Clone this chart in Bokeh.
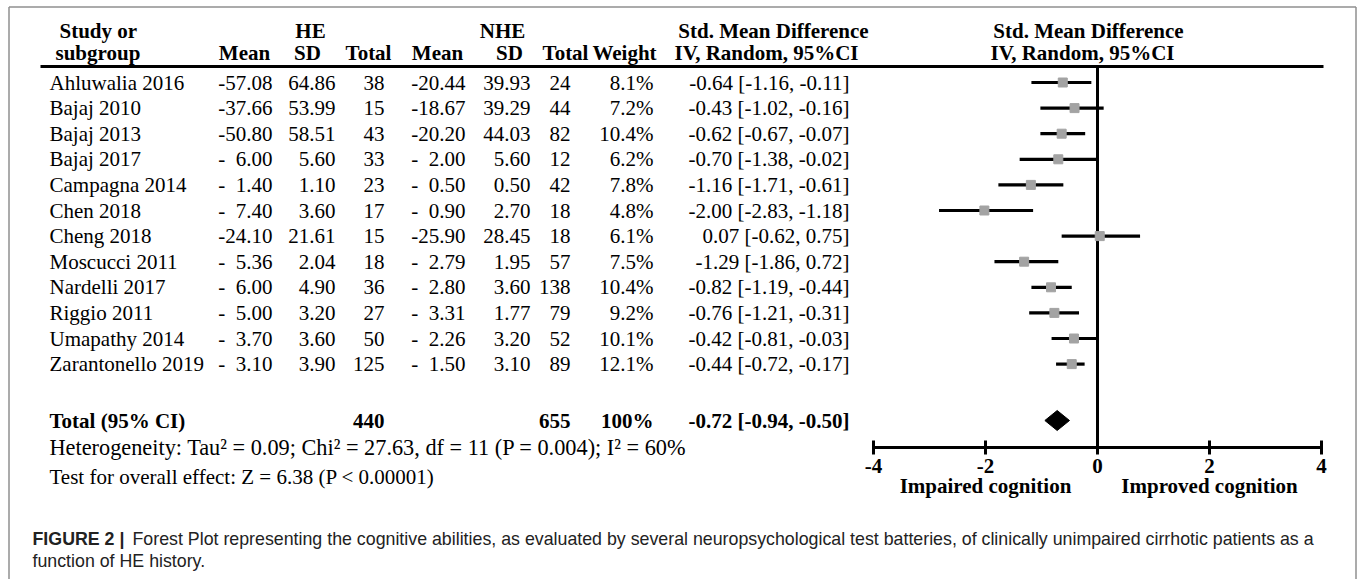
from bokeh.plotting import figure
from bokeh.models import Range1d, ColumnDataSource
from bokeh.embed import file_html
from bokeh.resources import INLINE
from bokeh.core.properties import value

# ---------------- data ----------------
studies = ["Ahluwalia 2016", "Bajaj 2010", "Bajaj 2013", "Bajaj 2017", "Campagna 2014",
           "Chen 2018", "Cheng 2018", "Moscucci 2011", "Nardelli 2017", "Riggio 2011",
           "Umapathy 2014", "Zarantonello 2019"]
FS = "\u2007"
he_mean = ["-57.08", "-37.66", "-50.80", "-" + FS + "6.00", "-" + FS + "1.40", "-" + FS + "7.40",
           "-24.10", "-" + FS + "5.36", "-" + FS + "6.00", "-" + FS + "5.00", "-" + FS + "3.70", "-" + FS + "3.10"]
he_sd = ["64.86", "53.99", "58.51", "5.60", "1.10", "3.60", "21.61", "2.04", "4.90", "3.20", "3.60", "3.90"]
he_total = [38, 15, 43, 33, 23, 17, 15, 18, 36, 27, 50, 125]
nhe_mean = ["-20.44", "-18.67", "-20.20", "-" + FS + "2.00", "-" + FS + "0.50", "-" + FS + "0.90",
            "-25.90", "-" + FS + "2.79", "-" + FS + "2.80", "-" + FS + "3.31", "-" + FS + "2.26", "-" + FS + "1.50"]
nhe_sd = ["39.93", "39.29", "44.03", "5.60", "0.50", "2.70", "28.45", "1.95", "3.60", "1.77", "3.20", "3.10"]
nhe_total = [24, 44, 82, 12, 42, 18, 18, 57, 138, 79, 52, 89]
weight = ["8.1%", "7.2%", "10.4%", "6.2%", "7.8%", "4.8%", "6.1%", "7.5%", "10.4%", "9.2%", "10.1%", "12.1%"]
smd_text = ["-0.64 [-1.16, -0.11]", "-0.43 [-1.02, -0.16]", "-0.62 [-0.67, -0.07]", "-0.70 [-1.38, -0.02]",
            "-1.16 [-1.71, -0.61]", "-2.00 [-2.83, -1.18]", "0.07 [-0.62, 0.75]", "-1.29 [-1.86, 0.72]",
            "-0.82 [-1.19, -0.44]", "-0.76 [-1.21, -0.31]", "-0.42 [-0.81, -0.03]", "-0.44 [-0.72, -0.17]"]
# values as drawn in the plot
smd_est = [-0.62, -0.41, -0.64, -0.70, -1.19, -2.02, 0.04, -1.31, -0.83, -0.77, -0.42, -0.46]
smd_lo = [-1.18, -1.02, -1.02, -1.39, -1.77, -2.83, -0.64, -1.84, -1.18, -1.22, -0.82, -0.74]
smd_hi = [-0.11, 0.11, -0.22, -0.01, -0.61, -1.15, 0.76, -0.70, -0.46, -0.33, 0.00, -0.23]

total_he = "440"
total_nhe = "655"
total_weight = "100%"
total_text = "-0.72 [-0.94, -0.50]"
total_est, total_lo, total_hi = -0.72, -0.94, -0.50

heterogeneity = "Heterogeneity: Tau\u00b2 = 0.09; Chi\u00b2 = 27.63, df = 11 (P = 0.004); I\u00b2 = 60%"
overall = "Test for overall effect: Z = 6.38 (P < 0.00001)"
tick_values = [-4, -2, 0, 2, 4]
tick_labels = ["-4", "-2", "0", "2", "4"]
favours = ["Impaired cognition", "Improved cognition"]
favours_x = [-2, 2]
caption_bold = "FIGURE 2 |"
caption_1 = ("Forest Plot representing the cognitive abilities, as evaluated by several neuropsychological "
             "test batteries, of clinically unimpaired cirrhotic patients as a")
caption_2 = "function of HE history."

# ---------------- layout ----------------
W, H = 1357, 579
X0, Y0 = 0, 0
ROW0, ROWH = 82.0, 25.6      # image y of first row centre, row spacing
ZERO_X, UNIT = 1097.0, 56.0  # image x of SMD 0, pixels per SMD unit
SERIF = value("Liberation Serif")
SANS = value("Liberation Sans")
FSZ = "21px"
BL = "alphabetic"

p = figure(width=W, height=H, output_backend="svg", toolbar_location=None,
           x_axis_type=None, y_axis_type=None, min_border=0,
           x_range=Range1d(X0, X0 + W), y_range=Range1d(Y0 + H, Y0))
p.outline_line_color = None
p.grid.visible = False
p.background_fill_color = "white"
p.extra_y_ranges = {"row": Range1d((Y0 + H - ROW0) / ROWH, (Y0 - ROW0) / ROWH)}
p.extra_x_ranges = {"smd": Range1d((X0 - ZERO_X) / UNIT, (X0 + W - ZERO_X) / UNIT)}

def row_of(y):
    return (y - ROW0) / ROWH

# frame (left, top, right)
p.multi_line(xs=[[8.5, 8.5], [8.5, 1355.5], [1355.5, 1355.5]], ys=[[600, 6.5], [6.5, 6.5], [6.5, 600]],
             line_color="#8f8f8f", line_width=1.5)

rows = list(range(len(studies)))
src = ColumnDataSource(dict(row=rows, study=studies, he_mean=he_mean, he_sd=he_sd,
                            he_total=[str(v) for v in he_total], nhe_mean=nhe_mean, nhe_sd=nhe_sd,
                            nhe_total=[str(v) for v in nhe_total], weight=weight, smd=smd_text,
                            est=smd_est, lo=smd_lo, hi=smd_hi))

def col(field, x, align, bold=False):
    p.text(x=x, y="row", text=field, source=src, y_range_name="row",
           text_font=SERIF, text_font_size=FSZ, text_align=align, text_baseline=BL,
           text_color="black", text_font_style="bold" if bold else "normal")

col("study", 49, "left")
col("he_mean", 272, "right")
col("he_sd", 335, "right")
col("he_total", 384, "right")
col("nhe_mean", 465, "right")
col("nhe_sd", 530, "right")
col("nhe_total", 570, "right")
col("weight", 653, "right")
col("smd", 849, "right")

# header
def htext(x, y, t, align="center"):
    p.text(x=[x], y=[y], text=[t], text_font=SERIF, text_font_size=FSZ, text_font_style="bold",
           text_align=align, text_baseline=BL, text_color="black")

htext(59, 30, "Study or", "left")
htext(55, 52, "subgroup", "left")
htext(310, 30, "HE")
htext(502, 30, "NHE")
htext(773, 30, "Std. Mean Difference")
htext(1088, 30, "Std. Mean Difference")
for x, t in [(244, "Mean"), (307, "SD"), (368, "Total"), (437, "Mean"), (509, "SD"),
             (565, "Total"), (624, "Weight"), (766, "IV, Random, 95%CI"), (1082, "IV, Random, 95%CI")]:
    htext(x, 52, t)
p.segment(x0=[40], x1=[1323], y0=[66], y1=[66], line_color="black", line_width=3)

# totals row
trow = row_of(420)
for x, t, al in [(49, "Total (95% CI)", "left"), (384, total_he, "right"), (570, total_nhe, "right"),
                 (653, total_weight, "right"), (849, total_text, "right")]:
    p.text(x=[x], y=[trow], text=[t], y_range_name="row", text_font=SERIF,
           text_font_size=FSZ, text_font_style="bold", text_align=al, text_baseline=BL)

p.text(x=[49], y=[447], text=[heterogeneity], text_font=SERIF, text_font_size="22.3px",
       text_align="left", text_baseline=BL, text_color="black")
p.text(x=[49], y=[476], text=[overall], text_font=SERIF, text_font_size=FSZ,
       text_align="left", text_baseline=BL, text_color="black")

# forest plot
axis_row = row_of(447)
p.segment(x0=[0], x1=[0], y0=[row_of(66)], y1=[axis_row], x_range_name="smd", y_range_name="row",
          line_color="black", line_width=3)
p.segment(x0="lo", x1="hi", y0="row", y1="row", source=src, x_range_name="smd", y_range_name="row",
          line_color="black", line_width=3.2)
p.scatter(x="est", y="row", source=src, x_range_name="smd", y_range_name="row", marker="square",
          size=9, fill_color="#a3a3a3", line_color="#a3a3a3")
dh = 10 / ROWH
p.patch(x=[total_lo, total_est, total_hi, total_est], y=[trow, trow - dh, trow, trow + dh],
        x_range_name="smd", y_range_name="row", fill_color="black", line_color="black")

p.segment(x0=[tick_values[0]], x1=[tick_values[-1]], y0=[axis_row], y1=[axis_row],
          x_range_name="smd", y_range_name="row", line_color="black", line_width=3)
tk = 7 / ROWH
p.segment(x0=tick_values, x1=tick_values, y0=[axis_row - tk] * 5, y1=[axis_row + tk] * 5,
          x_range_name="smd", y_range_name="row", line_color="black", line_width=3)
p.text(x=tick_values, y=[axis_row] * 5, text=tick_labels, x_range_name="smd", y_range_name="row",
       y_offset=18, text_font=SERIF, text_font_size=FSZ, text_font_style="bold",
       text_align="center", text_baseline=BL)
p.text(x=favours_x, y=[axis_row] * 2, text=favours, x_range_name="smd", y_range_name="row",
       y_offset=38, text_font=SERIF, text_font_size=FSZ, text_font_style="bold",
       text_align="center", text_baseline=BL)

# caption
p.text(x=[32], y=[538], text=[caption_bold], text_font=SANS, text_font_size="17.8px",
       text_font_style="bold", text_align="left", text_baseline=BL, text_color="#222222")
p.text(x=[132, 32], y=[538, 560], text=[caption_1, caption_2], text_font=SANS, text_font_size="17.8px",
       text_align="left", text_baseline=BL, text_color="#222222")

open("out.html", "w").write(file_html(p, INLINE))
